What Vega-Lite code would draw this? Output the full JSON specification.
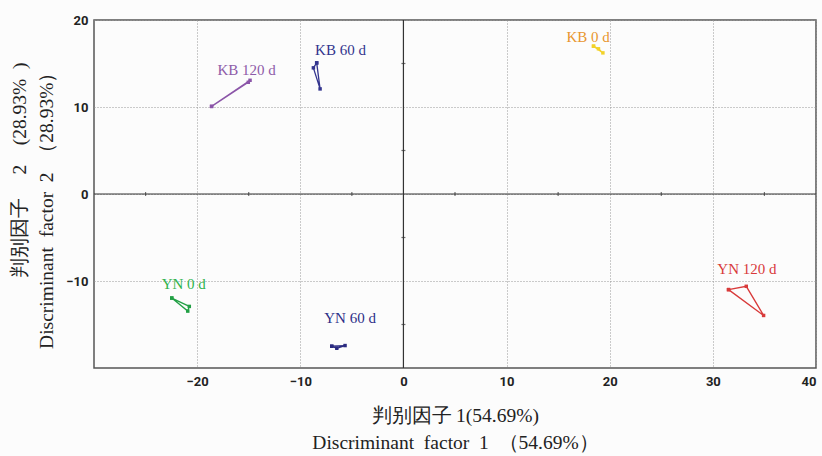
{
  "$schema": "https://vega.github.io/schema/vega-lite/v6.json",
  "width": 722,
  "height": 348,
  "autosize": {"type": "none"},
  "padding": {"left": 94, "top": 20, "right": 6, "bottom": 88},
  "background": "#fcfcfc",
  "config": {
    "view": {"stroke": "#555", "strokeWidth": 1.5, "fill": "#fcfcfc"},
    "axis": {
      "labelFont": "Roboto",
      "labelFontWeight": "bold",
      "labelFontSize": 13,
      "labelColor": "#222",
      "domain": false,
      "ticks": false,
      "grid": true,
      "gridDash": [1, 2],
      "gridColor": "#999",
      "gridWidth": 1,
      "titleFont": "Liberation Serif",
      "titleFontSize": 19.5,
      "titleFontWeight": "normal",
      "titleColor": "#222",
      "titleLineHeight": 27
    }
  },
  "datasets": {
    "pts": [
      {"group": "KB 120 d", "ord": 1, "x": -18.6, "y": 10.07},
      {"group": "KB 120 d", "ord": 2, "x": -14.87, "y": 13.07},
      {"group": "KB 120 d", "ord": 3, "x": -15.04, "y": 12.84},
      {"group": "KB 120 d", "ord": 4, "x": -18.6, "y": 10.07},
      {"group": "KB 60 d", "ord": 1, "x": -8.41, "y": 15.07},
      {"group": "KB 60 d", "ord": 2, "x": -8.73, "y": 14.5},
      {"group": "KB 60 d", "ord": 3, "x": -8.08, "y": 12.08},
      {"group": "KB 60 d", "ord": 4, "x": -8.41, "y": 15.07},
      {"group": "KB 0 d", "ord": 1, "x": 18.43, "y": 16.99},
      {"group": "KB 0 d", "ord": 2, "x": 19.34, "y": 16.22},
      {"group": "KB 0 d", "ord": 3, "x": 18.91, "y": 16.69},
      {"group": "KB 0 d", "ord": 4, "x": 18.43, "y": 16.99},
      {"group": "YN 0 d", "ord": 1, "x": -22.46, "y": -11.96},
      {"group": "YN 0 d", "ord": 2, "x": -20.76, "y": -12.92},
      {"group": "YN 0 d", "ord": 3, "x": -20.91, "y": -13.46},
      {"group": "YN 0 d", "ord": 4, "x": -22.46, "y": -11.96},
      {"group": "YN 60 d", "ord": 1, "x": -6.95, "y": -17.5},
      {"group": "YN 60 d", "ord": 2, "x": -6.46, "y": -17.73},
      {"group": "YN 60 d", "ord": 3, "x": -5.66, "y": -17.42},
      {"group": "YN 60 d", "ord": 4, "x": -6.95, "y": -17.5},
      {"group": "YN 120 d", "ord": 1, "x": 31.52, "y": -10.99},
      {"group": "YN 120 d", "ord": 2, "x": 33.24, "y": -10.61},
      {"group": "YN 120 d", "ord": 3, "x": 34.92, "y": -13.96},
      {"group": "YN 120 d", "ord": 4, "x": 31.52, "y": -10.99}
    ],
    "labels": [
      {"group": "KB 120 d", "x": -15.2, "y": 14.2},
      {"group": "KB 60 d", "x": -6.1, "y": 16.6},
      {"group": "KB 0 d", "x": 17.9, "y": 18.1},
      {"group": "YN 0 d", "x": -21.3, "y": -10.4},
      {"group": "YN 60 d", "x": -5.17, "y": -14.3},
      {"group": "YN 120 d", "x": 33.3, "y": -8.57}
    ],
    "hticks": [
      {"x": -25, "y": 0}, {"x": -15, "y": 0}, {"x": -5, "y": 0},
      {"x": 5, "y": 0}, {"x": 15, "y": 0}, {"x": 25, "y": 0}, {"x": 35, "y": 0}
    ],
    "vticks": [
      {"x": 0, "y": -15}, {"x": 0, "y": -5}, {"x": 0, "y": 5}, {"x": 0, "y": 15}
    ],
    "origin": [{"x": 0, "y": 0}]
  },
  "resolve": {"scale": {"color": "independent"}},
  "encoding": {
    "x": {
      "field": "x", "type": "quantitative",
      "scale": {"domain": [-30, 40], "nice": false, "zero": false},
      "axis": {
        "values": [-20, -10, 0, 10, 20, 30, 40],
        "labelPadding": 7,
        "title": ["判别因子\u20091(54.69%)", "Discriminant\u2002factor\u20021\u2002（54.69%）"],
        "titleY": 53,
        "titleBaseline": "alphabetic"
      }
    },
    "y": {
      "field": "y", "type": "quantitative",
      "scale": {"domain": [-20, 20], "nice": false, "zero": false},
      "axis": {
        "values": [-10, 0, 10, 20],
        "labelPadding": 6,
        "title": ["判别因子\u2003\u20092\u2003(28.93%\u2002)", "Discriminant\u2002factor\u20022\u2002（28.93%）"],
        "titleAngle": -90,
        "titleX": -84,
        "titleY": 42,
        "titleAlign": "right",
        "titleBaseline": "top"
      }
    }
  },
  "layer": [
    {
      "data": {"name": "origin"},
      "mark": {"type": "rule", "color": "#333", "strokeWidth": 1.2},
      "encoding": {"x": {"field": "x", "type": "quantitative"}, "y": null}
    },
    {
      "data": {"name": "origin"},
      "mark": {"type": "rule", "color": "#333", "strokeWidth": 1.2},
      "encoding": {"y": {"field": "y", "type": "quantitative"}, "x": null}
    },
    {
      "data": {"name": "hticks"},
      "mark": {"type": "tick", "orient": "vertical", "size": 4, "thickness": 1.2, "color": "#333"},
      "encoding": {}
    },
    {
      "data": {"name": "vticks"},
      "mark": {"type": "tick", "orient": "horizontal", "size": 4, "thickness": 1.2, "color": "#333"},
      "encoding": {}
    },
    {
      "data": {"name": "pts"},
      "mark": {"type": "line", "strokeWidth": 1.3},
      "encoding": {
        "order": {"field": "ord", "type": "quantitative"},
        "color": {
          "field": "group", "type": "nominal", "legend": null,
          "scale": {
            "domain": ["KB 120 d", "KB 60 d", "KB 0 d", "YN 0 d", "YN 60 d", "YN 120 d"],
            "range": ["#8B55A8", "#33348E", "#F2D22A", "#22A045", "#2A2A80", "#D83A3A"]
          }
        }
      }
    },
    {
      "data": {"name": "pts"},
      "mark": {"type": "point", "shape": "square", "filled": true, "size": 12, "opacity": 1},
      "encoding": {
        "color": {
          "field": "group", "type": "nominal", "legend": null,
          "scale": {
            "domain": ["KB 120 d", "KB 60 d", "KB 0 d", "YN 0 d", "YN 60 d", "YN 120 d"],
            "range": ["#8B55A8", "#33348E", "#F2D22A", "#22A045", "#2A2A80", "#D83A3A"]
          }
        }
      }
    },
    {
      "data": {"name": "labels"},
      "mark": {"type": "text", "font": "Liberation Serif", "fontSize": 15, "align": "center", "baseline": "middle"},
      "encoding": {
        "text": {"field": "group"},
        "color": {
          "field": "group", "type": "nominal", "legend": null,
          "scale": {
            "domain": ["KB 120 d", "KB 60 d", "KB 0 d", "YN 0 d", "YN 60 d", "YN 120 d"],
            "range": ["#8E5BA8", "#33348E", "#E8962E", "#2DB34A", "#2E2E88", "#D83A3A"]
          }
        }
      }
    }
  ]
}
